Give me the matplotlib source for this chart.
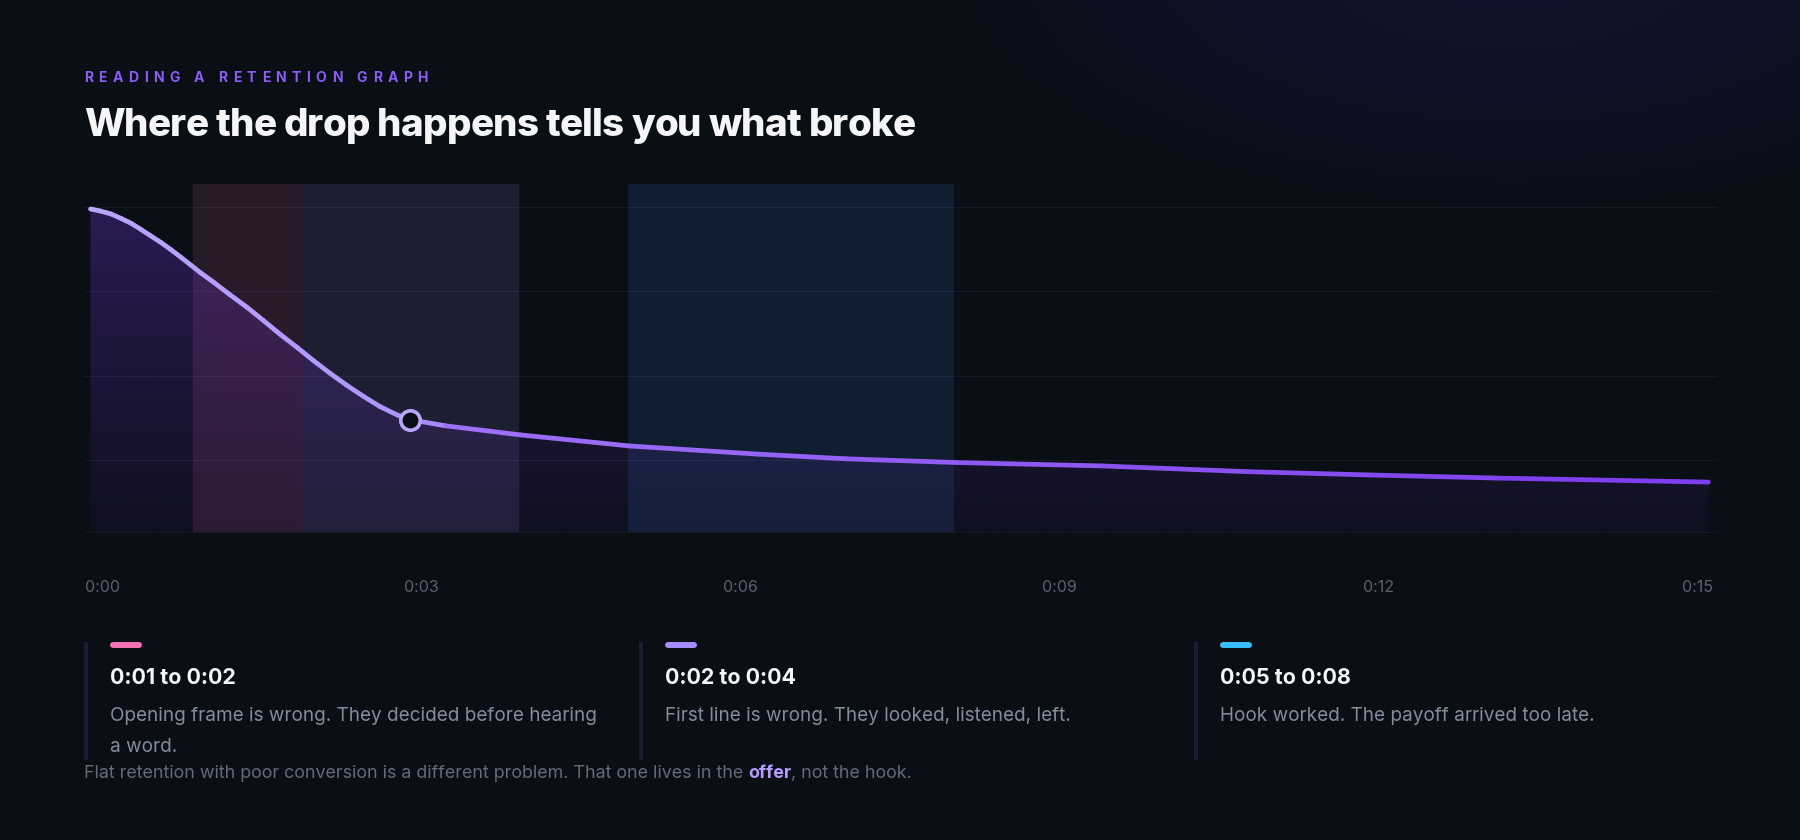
import numpy as np
import matplotlib
matplotlib.use('Agg')
import matplotlib.pyplot as plt
from matplotlib.collections import LineCollection
from matplotlib.colors import LinearSegmentedColormap, to_rgb
from matplotlib.font_manager import FontProperties, findfont, get_font
from matplotlib.lines import Line2D
from matplotlib.transforms import blended_transform_factory

W, H, DPI = 1800, 840, 100

# retention curve (seconds, % still watching)
times = [0.06, 0.15, 0.25, 0.34, 0.43, 0.52, 0.61, 0.71, 0.80, 0.89, 0.98,
         1.07, 1.19, 1.34, 1.50, 1.65, 1.80, 1.96, 2.11, 2.26, 2.42, 2.57,
         2.72, 2.88, 3.00, 3.32, 4.01, 5.02, 6.19, 7.01, 8.02, 9.35, 10.69,
         11.84, 12.98, 14.93]
retention = [99.4, 98.8, 97.9, 96.6, 95.2, 93.4, 91.5, 89.4, 87.3, 85.1, 82.8,
             80.5, 77.7, 74.0, 70.2, 66.3, 62.3, 58.3, 54.4, 50.7, 47.0, 43.8,
             40.8, 38.3, 36.9, 35.1, 32.4, 29.1, 26.7, 25.3, 24.2, 23.2, 21.5,
             20.5, 19.6, 18.4]
marker_time = 3.0

grid_values = [25, 50, 75, 100]
tick_times = [0, 3, 6, 9, 12, 15]
tick_labels = ['0:00', '0:03', '0:06', '0:09', '0:12', '0:15']

zone_start = [1, 2, 5]
zone_end = [2, 4, 8]
zone_titles = ['0:01 to 0:02', '0:02 to 0:04', '0:05 to 0:08']
zone_notes = [['Opening frame is wrong. They decided before hearing', 'a word.'],
              ['First line is wrong. They looked, listened, left.'],
              ['Hook worked. The payoff arrived too late.']]
zone_colors = ['#f472b6', '#a78bfa', '#38bdf8']
band_colors = ['#f472b6', '#a78bfa', '#3b8cf6']

eyebrow = 'READING A RETENTION GRAPH'
title = 'Where the drop happens tells you what broke'
footer = ['Flat retention with poor conversion is a different problem. That one lives in the ',
          'offer', ', not the hook.']

BG = '#0a0e15'

plt.rcParams['font.family'] = ['Inter', 'DejaVu Sans']

fig = plt.figure(figsize=(W / DPI, H / DPI), dpi=DPI)
fig.patch.set_facecolor(BG)
rend = fig.canvas.get_renderer()


def fx(x):
    return x / W


def fy(y):
    return 1 - y / H


def ft(weight):
    return get_font(findfont(FontProperties(family='Inter', weight=weight)))


def advances(s, px, weight):
    f = ft(weight)
    f.set_size(px * 72 / DPI, DPI)
    return [f.load_char(ord(ch)).linearHoriAdvance / 65536 for ch in s]


def text_width(s, px, weight, tracking=0.0):
    return sum(advances(s, px, weight)) + tracking * (len(s) - 1)


def fit(s, target, weight, base=20.0):
    return base * target / text_width(s, base, weight)


def put(x, y, s, px, weight, color, tracking=0.0):
    kw = dict(fontsize=px * 72 / DPI, fontweight=weight, color=color,
              va='baseline', ha='left')
    adv = advances(s, px, weight)
    if tracking == 0:
        t = fig.text(fx(x), fy(y), s, **kw)
        core = s.rstrip(' ')
        t.set_text(core)
        w = t.get_window_extent(rend).width
        t.set_text(s)
        return x + w + sum(adv[len(core):])
    pen = x
    for ch, a in zip(s, adv):
        if ch != ' ':
            fig.text(fx(pen), fy(y), ch, **kw)
        pen += a + tracking
    return pen - tracking


# background with soft glow top right
bg = fig.add_axes([0, 0, 1, 1], zorder=-10)
bg.axis('off')
yy, xx = np.mgrid[0:H:2, 0:W:2].astype(float)
d = np.hypot((xx - 1510) / 560, (yy + 40) / 250)
k = (np.clip(1 - d, 0, 1) ** 0.6)[..., None]
img = np.array(to_rgb(BG)) * (1 - k) + np.array(to_rgb('#13122c')) * k
bg.imshow(img, extent=(0, W, H, 0), aspect='auto', interpolation='bilinear')
bg.set_xlim(0, W)
bg.set_ylim(H, 0)

# chart
y_lo, y_hi = 3.6, 106.8
ax = fig.add_axes([fx(84), fy(532), (1716 - 84) / W, (532 - 184) / H])
ax.set_facecolor('none')
for sp in ax.spines.values():
    sp.set_visible(False)
ax.set_xticks([])
ax.set_yticks([])

for s, e, c in zip(zone_start, zone_end, band_colors):
    ax.axvspan(s, e, color=c, alpha=0.13, lw=0, zorder=1)

fb = ax.fill_between(times, retention, y_lo, facecolor='none', edgecolor='none', zorder=2)
grad = np.zeros((256, 1, 4))
grad[..., :3] = to_rgb('#7c3aed')
grad[..., 3] = np.linspace(0.05, 0.29, 256)[:, None]
im = ax.imshow(grad, extent=[0, 15, y_lo, 100], origin='lower', aspect='auto',
               interpolation='bilinear', zorder=2)
im.set_clip_path(fb.get_paths()[0], transform=ax.transData)

for g in grid_values + [y_lo]:
    ax.axhline(g, color='#a0a0ff', alpha=0.08, lw=0.8, zorder=3, clip_on=False)

cmap = LinearSegmentedColormap.from_list(
    'ret', [(0, '#bba7fd'), (0.19, '#ae94fc'), (0.24, '#9d70f7'), (1, '#7c3aed')])
pts = np.column_stack([times, retention])
segs = np.stack([pts[:-1], pts[1:]], axis=1)
mids = (np.array(times[:-1]) + np.array(times[1:])) / 2 / 15
lc = LineCollection(segs, colors=cmap(mids), linewidths=3.4, capstyle='round',
                    joinstyle='round', zorder=5)
ax.add_collection(lc)

mi = times.index(marker_time)
ax.plot([times[mi]], [retention[mi]], marker='o', ms=14, mfc=BG, mec='#b9a6fc',
        mew=2.6, zorder=6, clip_on=False)

ax.set_xlim(0, 15)
ax.set_ylim(y_lo, y_hi)

# time labels are spread edge to edge, each one centred in its own slot
tr = blended_transform_factory(ax.transData, fig.transFigure)
lab_w = 37 / ((1716 - 84) / 15)
for t, lab in zip(tick_times, tick_labels):
    xt = lab_w / 2 + t * (15 - lab_w) / 15
    ax.text(xt, fy(592), lab, transform=tr, ha='center', va='baseline',
            fontsize=16 * 0.72, color='#5b6070', clip_on=False)

# header
eb_px = 14
eb_track = (344 - text_width(eyebrow, eb_px, 'bold')) / (len(eyebrow) - 1)
put(84, 82, eyebrow, eb_px, 'bold', '#8b5cf6', tracking=eb_track)

t_px = 38.5
t_track = (832 - text_width(title, t_px, 'heavy')) / (len(title) - 1)
put(84, 136, title, t_px, 'heavy', '#f5f5f7', tracking=t_track)

# zone cards
head_px = fit(zone_titles[0], 126, 'bold')
note_px = fit(zone_notes[0][0], 486, 'normal')
for i in range(3):
    cx = 86 + 555 * i
    fig.add_artist(Line2D([fx(cx), fx(cx)], [fy(642), fy(760)], lw=4 * 0.72,
                          color='#1d1c33', solid_capstyle='butt'))
    fig.add_artist(Line2D([fx(cx + 27), fx(cx + 53)], [fy(645), fy(645)], lw=6 * 0.72,
                          color=zone_colors[i], solid_capstyle='round'))
    put(cx + 24, 684, zone_titles[i], head_px, 'bold', '#f5f5f7')
    for j, line in enumerate(zone_notes[i]):
        put(cx + 24, 721 + 31 * j, line, note_px, 'normal', '#858b9c')

# footer
base = 20.0
tot = (text_width(footer[0], base, 'normal') + text_width(footer[1], base, 'bold')
       + text_width(footer[2], base, 'normal'))
f_px = base * 831 / tot
x = put(84, 778, footer[0], f_px, 'normal', '#646a7a')
x = put(x, 778, footer[1], f_px, 'bold', '#b49bff')
put(x, 778, footer[2], f_px, 'normal', '#646a7a')

fig.savefig('out.png', dpi=DPI, facecolor=BG)
